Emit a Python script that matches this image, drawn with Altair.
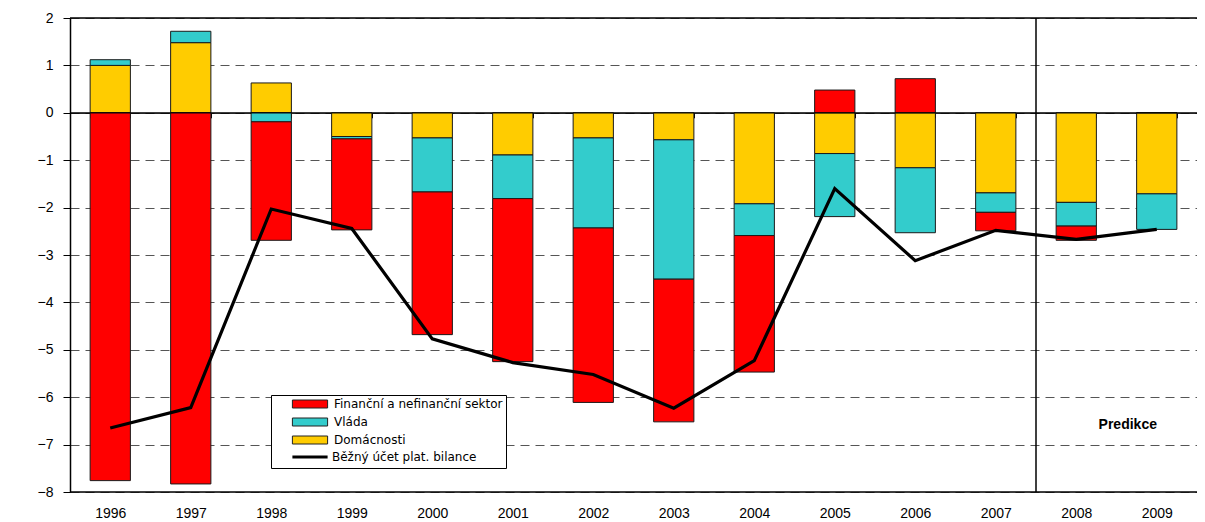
import altair as alt
import pandas as pd

years = ["1996", "1997", "1998", "1999", "2000", "2001", "2002", "2003",
         "2004", "2005", "2006", "2007", "2008", "2009"]
financni = [-7.76, -7.83, -2.50, -1.92, -3.01, -3.44, -3.68, -3.01,
            -2.88, 0.48, 0.72, -0.39, -0.30, 0.0]
vlada = [0.12, 0.24, -0.19, -0.05, -1.14, -0.92, -1.90, -2.94,
         -0.67, -1.33, -1.37, -0.41, -0.50, -0.75]
domacnosti = [1.00, 1.48, 0.63, -0.50, -0.53, -0.89, -0.53, -0.57,
              -1.92, -0.86, -1.16, -1.69, -1.89, -1.71]
bezny_ucet = [-6.65, -6.22, -2.03, -2.44, -4.77, -5.27, -5.52, -6.23,
              -5.23, -1.60, -3.12, -2.48, -2.67, -2.46]

S_FIN = "Finanční a nefinanční sektor"
S_VL = "Vláda"
S_DOM = "Domácnosti"
S_BU = "Běžný účet plat. bilance"
bar_series = [S_FIN, S_VL, S_DOM]
bar_colors = ["#FF0000", "#33CCCC", "#FFCC00"]
y_ticks = [-8, -7, -6, -5, -4, -3, -2, -1, 0, 1, 2]
prediction_label = "Predikce"

rows = []
for i, yr in enumerate(years):
    rows.append({"rok": yr, "serie": S_DOM, "hodnota": domacnosti[i], "poradi": 0})
    rows.append({"rok": yr, "serie": S_VL, "hodnota": vlada[i], "poradi": 1})
    rows.append({"rok": yr, "serie": S_FIN, "hodnota": financni[i], "poradi": 2})
bars_df = pd.DataFrame(rows)
line_df = pd.DataFrame({"rok": years, "serie": S_BU, "hodnota": bezny_ucet})

FONT = "Liberation Sans, Arial, sans-serif"
WIDE = "DejaVu Sans, Verdana, sans-serif"
W, H = 1127, 474
STEP = W / len(years)

xscale = alt.Scale(domain=years, paddingInner=0.5, paddingOuter=0.25)
yscale = alt.Scale(domain=[-8, 2], nice=False, zero=False)

legend_fill = alt.Legend(
    title=" ", titleOrient="bottom", titleFontSize=12, titlePadding=8,
    orient="none", legendX=201, legendY=377,
    fillColor="white", strokeColor="#000000", padding=3,
    symbolType="M-4.4,-1H4.4V1H-4.4Z", symbolSize=64,
    symbolOffset=30, labelOffset=18, labelLimit=400,
    symbolStrokeColor="#222222", symbolStrokeWidth=1, symbolOpacity=1,
    labelFont=WIDE, labelFontSize=12, labelColor="#000000",
    rowPadding=6,
)
legend_line = alt.Legend(
    title=None, orient="none", legendX=201, legendY=430,
    padding=3,
    symbolType="M-4.4,0H4.4", symbolSize=64,
    symbolOffset=30, labelOffset=16, labelLimit=400,
    symbolStrokeWidth=3,
    labelFont=WIDE, labelFontSize=12, labelColor="#000000",
)

x_axis = alt.Axis(
    title=None, orient="bottom", offset=-(H * 0.8),
    domain=True, domainColor="#000000", domainWidth=1,
    ticks=True, tickBand="extent", tickSize=5, tickColor="#000000",
    labelPadding=389, labelFont=FONT, labelFontSize=14, labelColor="#000000",
    labelAngle=0, grid=False,
)
y_axis = alt.Axis(
    title=None, values=y_ticks, format="d",
    domain=True, domainColor="#000000", domainWidth=1.5,
    ticks=True, tickSize=7, tickColor="#000000",
    labelPadding=10, labelFont=FONT, labelFontSize=14, labelColor="#000000",
    grid=True, gridDash=[9, 6], gridColor="#555555", gridWidth=1,
)

bars = alt.Chart(bars_df).mark_bar(stroke="#1a1a1a", strokeWidth=1).encode(
    x=alt.X("rok:N", scale=xscale, axis=x_axis, sort=years),
    y=alt.Y("hodnota:Q", scale=yscale, axis=y_axis, stack="zero"),
    fill=alt.Fill("serie:N", scale=alt.Scale(domain=bar_series, range=bar_colors),
                  legend=legend_fill, sort=bar_series),
    order=alt.Order("poradi:Q", sort="ascending"),
)

line = alt.Chart(line_df).mark_line(strokeWidth=3.2, strokeJoin="miter").encode(
    x=alt.X("rok:N", scale=xscale, sort=years),
    y=alt.Y("hodnota:Q", scale=yscale),
    stroke=alt.Stroke("serie:N", scale=alt.Scale(domain=[S_BU], range=["#000000"]),
                      legend=legend_line),
)

top_rule = alt.Chart(pd.DataFrame({"v": [2]})).mark_rule(color="#000000", strokeWidth=1.5).encode(
    y=alt.Y("v:Q", scale=yscale))
bottom_rule = alt.Chart(pd.DataFrame({"v": [-8]})).mark_rule(color="#000000", strokeWidth=1.5).encode(
    y=alt.Y("v:Q", scale=yscale))
zero_rule = alt.Chart(pd.DataFrame({"v": [0]})).mark_rule(color="#000000", strokeWidth=1).encode(
    y=alt.Y("v:Q", scale=yscale))

sep = alt.Chart(pd.DataFrame({"rok": ["2008"]})).mark_rule(
    color="#000000", strokeWidth=1.5, xOffset=-STEP / 2).encode(
    x=alt.X("rok:N", scale=xscale, sort=years))

pred = alt.Chart(pd.DataFrame({"rok": ["2009"], "v": [-6.58], "t": [prediction_label]})).mark_text(
    font=FONT, fontSize=14, fontWeight="bold", color="#000000", xOffset=-STEP * 0.36,
    baseline="middle", align="center").encode(
    x=alt.X("rok:N", scale=xscale, sort=years),
    y=alt.Y("v:Q", scale=yscale),
    text="t:N",
)

chart = alt.layer(top_rule, bottom_rule, bars, zero_rule, line, sep, pred).properties(
    width=W, height=H,
    padding={"left": 62, "top": 10, "right": 0, "bottom": 30},
    autosize=alt.AutoSizeParams(type="none"),
).configure_view(stroke=None).configure(background="white")

chart.save("out.html", embed_options={"renderer": "svg", "actions": False})
